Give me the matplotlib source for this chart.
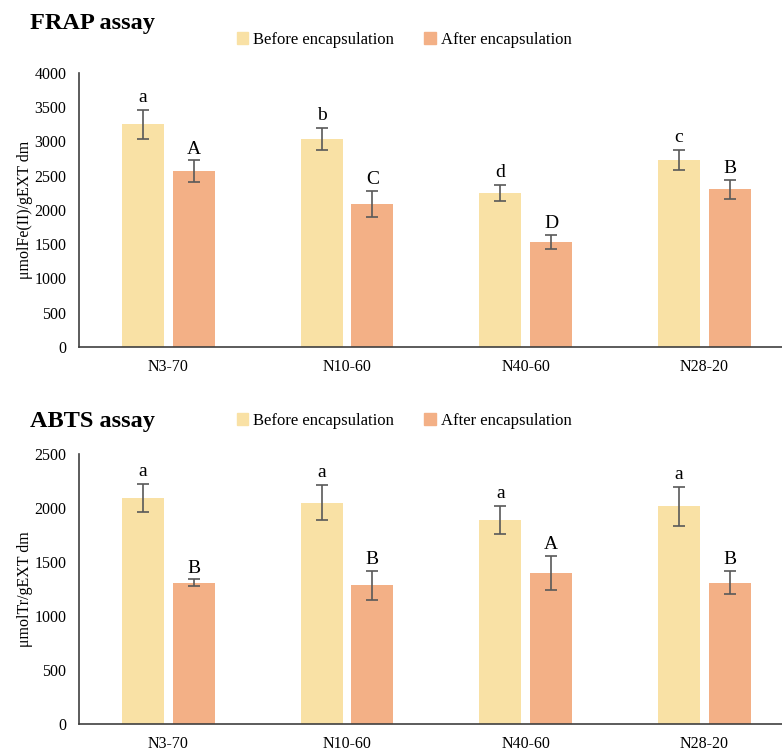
import matplotlib
matplotlib.use('Agg')
from matplotlib import pyplot as plt
from matplotlib.patches import Patch
import numpy as np

samples = ['N3-70', 'N10-60', 'N40-60', 'N28-20']
series_names = ['Before encapsulation', 'After encapsulation']

frap_before = [3250, 3035, 2245, 2730]
frap_before_err = [210, 165, 120, 150]
frap_after = [2570, 2090, 1535, 2305]
frap_after_err = [155, 190, 100, 140]
frap_letters_before = ['a', 'b', 'd', 'c']
frap_letters_after = ['A', 'C', 'D', 'B']

abts_before = [2090, 2050, 1890, 2015]
abts_before_err = [130, 160, 130, 180]
abts_after = [1310, 1285, 1400, 1310]
abts_after_err = [30, 135, 160, 110]
abts_letters_before = ['a', 'a', 'a', 'a']
abts_letters_after = ['B', 'B', 'A', 'B']

colors = ['#F9E1A5', '#F3B086']
err_color = '#595959'

plt.rcParams['font.family'] = ['Liberation Serif', 'DejaVu Serif']
plt.rcParams['xtick.labelsize'] = 11.5
plt.rcParams['ytick.labelsize'] = 11.5
plt.rcParams['axes.labelsize'] = 11.5


def draw_panel(fig, rect, title, title_y, legend_y, before, before_err, after, after_err,
               lett_b, lett_a, ylim, yticks, ylabel):
    ax = fig.add_axes(rect)
    x = np.arange(len(samples))
    w = 0.235
    off = 0.142
    ax.bar(x - off, before, w, color=colors[0])
    ax.bar(x + off, after, w, color=colors[1])
    ax.errorbar(x - off, before, yerr=before_err, fmt='none', ecolor=err_color,
                elinewidth=1.2, capsize=4, capthick=1.2)
    ax.errorbar(x + off, after, yerr=after_err, fmt='none', ecolor=err_color,
                elinewidth=1.2, capsize=4, capthick=1.2)
    for i in range(len(samples)):
        ax.annotate(lett_b[i], (x[i] - off, before[i] + before_err[i]), xytext=(0, 3),
                    textcoords='offset points', ha='center', va='bottom', fontsize=14)
        ax.annotate(lett_a[i], (x[i] + off, after[i] + after_err[i]), xytext=(0, 2),
                    textcoords='offset points', ha='center', va='bottom', fontsize=14)
    ax.set_xlim(-0.5, 3.434)
    ax.set_ylim(*ylim)
    ax.set_yticks(yticks)
    ax.set_xticks(x)
    ax.set_xticklabels(samples)
    ax.tick_params(length=0)
    ax.tick_params(axis='y', pad=9)
    ax.tick_params(axis='x', pad=9)
    for s in ['top', 'right']:
        ax.spines[s].set_visible(False)
    ax.spines['left'].set_color('#404040')
    ax.spines['bottom'].set_color('#404040')
    ax.spines['left'].set_linewidth(1.2)
    ax.spines['bottom'].set_linewidth(1.2)
    ax.set_ylabel(ylabel)
    ax.yaxis.set_label_coords(-46 / 703, 0.5)
    fig.text(30 / 782, title_y, title, fontsize=17.5, fontweight='bold', va='center', ha='left')
    handles = [Patch(color=colors[0]), Patch(color=colors[1])]
    fig.legend(handles, series_names, loc='center', bbox_to_anchor=(0.517, legend_y),
               ncol=2, frameon=False, fontsize=12, handlelength=0.7, handleheight=0.7,
               handletextpad=0.3, columnspacing=1.8)
    return ax


fig = plt.figure(figsize=(7.82, 7.54), dpi=100)
draw_panel(fig, [79 / 782, 407 / 754, 1 - 79 / 782, 274 / 754], 'FRAP assay', 1 - 23 / 754,
           1 - 40 / 754, frap_before, frap_before_err, frap_after, frap_after_err,
           frap_letters_before, frap_letters_after, (0, 4000), range(0, 4001, 500),
           'μmolFe(II)/gEXT dm')
draw_panel(fig, [79 / 782, 30 / 754, 1 - 79 / 782, 270 / 754], 'ABTS assay', 1 - 422 / 754,
           1 - 421 / 754, abts_before, abts_before_err, abts_after, abts_after_err,
           abts_letters_before, abts_letters_after, (0, 2500), range(0, 2501, 500),
           'μmolTr/gEXT dm')
fig.savefig('out.png', dpi=100)
